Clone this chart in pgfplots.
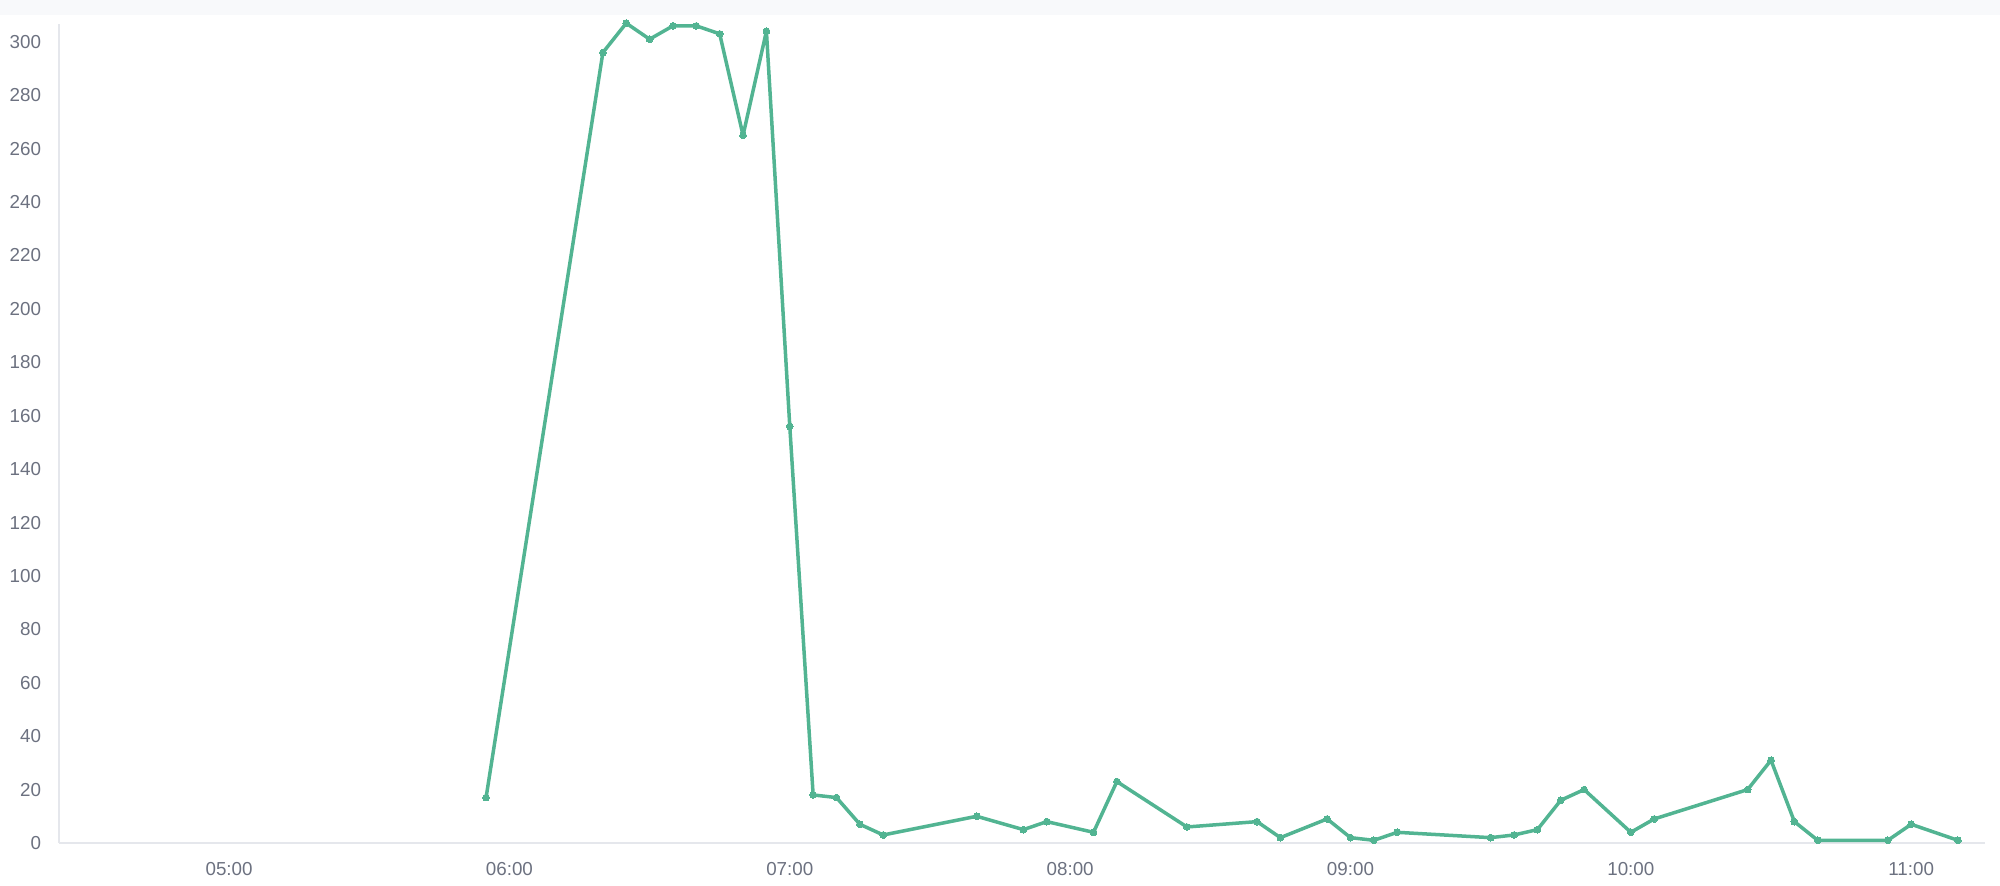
\documentclass[border=0pt]{standalone}
\usepackage{pgfplots}
\pgfplotsset{compat=1.18}
\usepackage{fontspec}
\setmainfont{Liberation Sans}

\definecolor{linegreen}{RGB}{82,180,146}
\definecolor{axisgray}{RGB}{229,231,236}
\definecolor{labelgray}{RGB}{108,113,128}
\definecolor{bandgray}{RGB}{248,249,251}

\begin{document}
\begin{tikzpicture}
  % page frame, 1px = 0.5pt
  \path[use as bounding box] (-29.5pt,-21.5pt) rectangle (970.5pt,421.5pt);
  \fill[bandgray] (-29.5pt,414pt) rectangle (970.5pt,421.5pt);
  \begin{axis}[
      at={(0,0)}, anchor=south west,
      width=963pt, height=409.5pt,
      scale only axis,
      clip=false,
      xmin=263.6, xmax=675.8,
      ymin=0, ymax=306.7,
      axis lines=left,
      axis line style={-, draw=axisgray, line width=1pt},
      major tick length=0pt,
      xtick={300,360,420,480,540,600,660},
      xticklabels={05:00,06:00,07:00,08:00,09:00,10:00,11:00},
      ytick={0,20,...,300},
      /pgf/number format/assume math mode=true,
      tick label style={font=\fontsize{9.4}{11}\selectfont, text=labelgray, inner sep=0pt},
      xticklabel style={anchor=north, yshift=-9.25pt},
      yticklabel style={anchor=east, xshift=-8.8pt},
    ]
    \addplot[color=linegreen, line width=1.75pt, line join=round,
             mark=*, mark size=1.7pt, mark options={fill=linegreen, draw=linegreen, line width=0pt}]
      coordinates {
        (355,17) (380,296) (385,307) (390,301) (395,306) (400,306) (405,303)
        (410,265) (415,304) (420,156) (425,18) (430,17) (435,7) (440,3)
        (460,10) (470,5) (475,8) (485,4) (490,23) (505,6) (520,8) (525,2)
        (535,9) (540,2) (545,1) (550,4) (570,2) (575,3) (580,5) (585,16)
        (590,20) (600,4) (605,9) (625,20) (630,31) (635,8) (640,1) (655,1)
        (660,7) (670,1)
      };
  \end{axis}
\end{tikzpicture}
\end{document}
